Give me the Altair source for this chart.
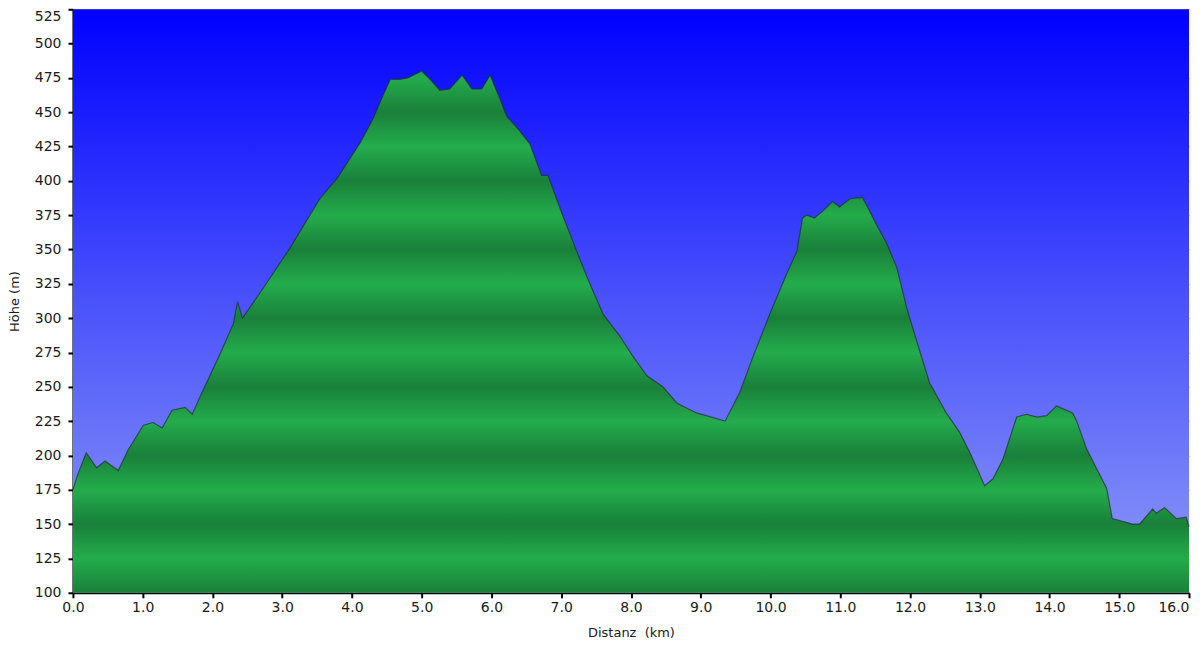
import altair as alt
import pandas as pd

km = [0.00, 0.06, 0.19, 0.34, 0.46, 0.65, 0.79, 1.01, 1.15, 1.28, 1.42, 1.61, 1.71, 1.87,
      2.11, 2.30, 2.36, 2.43, 2.73, 3.11, 3.54, 3.79, 4.12, 4.30, 4.40, 4.55, 4.69, 4.80,
      5.00, 5.12, 5.26, 5.40, 5.58, 5.72, 5.86, 5.98, 6.12, 6.22, 6.38, 6.55, 6.72, 6.81,
      7.02, 7.22, 7.41, 7.60, 7.84, 8.03, 8.23, 8.46, 8.66, 8.94, 9.35, 9.56, 9.75, 9.99,
      10.23, 10.38, 10.46, 10.52, 10.63, 10.75, 10.89, 10.99, 11.14, 11.32, 11.42, 11.52,
      11.67, 11.81, 11.95, 12.14, 12.28, 12.52, 12.71, 12.86, 13.07, 13.19, 13.33, 13.53,
      13.67, 13.82, 13.96, 14.10, 14.33, 14.39, 14.53, 14.68, 14.82, 14.90, 15.19, 15.29,
      15.48, 15.53, 15.65, 15.82, 15.96, 16.00]
elev = [175, 185, 202, 191, 196, 189, 204, 222, 224, 220, 233, 235, 230, 248,
        274, 296, 312, 300, 322, 351, 387, 402, 428, 445, 457, 474, 474, 475,
        480, 474, 466, 467, 477, 467, 467, 477, 460, 447, 438, 427, 404, 404,
        375, 349, 325, 303, 287, 272, 258, 250, 238, 231, 225, 246, 272, 303,
        332, 349, 373, 375, 373, 378, 385, 381, 387, 388, 378, 368,
        354, 337, 308, 276, 253, 231, 217, 202, 178, 183, 197, 228,
        230, 228, 229, 236, 231, 225, 205, 190, 176, 154, 150, 150,
        161, 158, 162, 154, 155, 148]

y_ticks = [100, 125, 150, 175, 200, 225, 250, 275, 300, 325, 350, 375, 400, 425, 450, 475, 500, 525]
x_ticks = [0, 1, 2, 3, 4, 5, 6, 7, 8, 9, 10, 11, 12, 13, 14, 15, 16]

df = pd.DataFrame({"km": km, "elev": elev})

# banded green gradient: dark at multiples of 50 m, light in between
dark = (25, 128, 58)
light = (36, 172, 76)
top = max(elev)
base = 100


def band_color(v):
    r = v % 50
    d = min(r, 50 - r) / 25.0
    c = [round(dark[i] + (light[i] - dark[i]) * d) for i in range(3)]
    return "#%02x%02x%02x" % tuple(c)


levels = [top] + [v for v in range(525, base - 1, -25) if v < top]
stops = [alt.GradientStop(color=band_color(v), offset=(top - v) / (top - base)) for v in levels]
green = alt.LinearGradient(gradient="linear", stops=stops, x1=0, x2=0, y1=0, y2=1)

sky = alt.LinearGradient(
    gradient="linear",
    stops=[alt.GradientStop(color="#0000ff", offset=0),
           alt.GradientStop(color="#4a52fb", offset=0.5),
           alt.GradientStop(color="#8e9cf6", offset=1)],
    x1=0, x2=0, y1=0, y2=1,
)

xs = alt.Scale(domain=[0, 16.0], nice=False)
ys = alt.Scale(domain=[100, 525], nice=False, zero=False)

x_axis = alt.Axis(values=x_ticks, format=".1f", title="Distanz \u00a0(km)",
                  grid=False, labelOverlap=False,
                  labelAlign={"condition": {"test": "datum.value >= 16", "value": "right"},
                              "value": "center"})
y_axis = alt.Axis(values=y_ticks, title="Höhe (m)", grid=True, labelOverlap=False,
                  labelBaseline={"condition": {"test": "datum.value >= 525", "value": "top"},
                                 "value": "middle"})

bg = alt.Chart(pd.DataFrame({"a": [0]})).mark_rect(color=sky).encode(
    x=alt.value(0), x2=alt.value("width"), y=alt.value(0), y2=alt.value("height")
)

area = alt.Chart(df).mark_area(color=green).encode(
    x=alt.X("km:Q", scale=xs, axis=x_axis),
    y=alt.Y("elev:Q", scale=ys, axis=y_axis),
    y2=alt.datum(100),
)

line = alt.Chart(df).mark_line(color="#20282a", strokeWidth=1.2, opacity=0.65).encode(
    x=alt.X("km:Q", scale=xs, axis=x_axis),
    y=alt.Y("elev:Q", scale=ys, axis=y_axis),
)

chart = alt.layer(bg, area, line).properties(
    width=1117, height=584,
    padding={"left": 0, "top": 0, "right": 0, "bottom": 0},
).configure_view(stroke=None).configure_axis(
    labelFont="DejaVu Sans", labelFontSize=14, labelColor="#1a1a1a",
    titleFont="DejaVu Sans", titleFontSize=13, titleColor="#1a1a1a", titleFontWeight="normal",
    domainColor="#000000", domainWidth=2, tickColor="#000000", tickWidth=2, tickSize=5,
    gridColor="#000000", gridOpacity=0.35, gridWidth=1, zindex=1,
).configure_axisY(
    labelPadding=7, titlePadding=13
).configure_axisX(
    labelPadding=3, titlePadding=12
)

chart.save("out.html", embed_options={"renderer": "svg", "actions": False})
